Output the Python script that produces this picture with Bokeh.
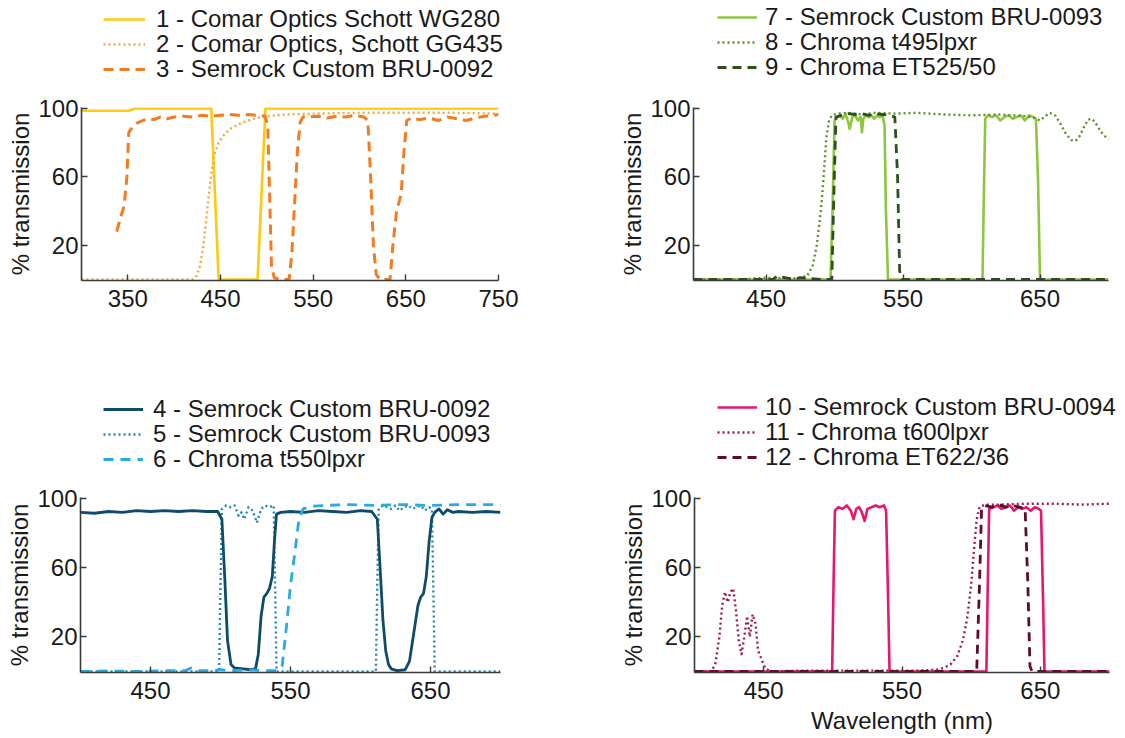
from bokeh.plotting import figure
from bokeh.models import Range1d, FixedTicker, Legend, LegendItem
from bokeh.layouts import column, row
from bokeh.embed import file_html
from bokeh.resources import INLINE

FONT = "Liberation Sans"

# ---------------- Panel 1 ----------------
p1_xticks = [350, 450, 550, 650, 750]
s1_label = "1 - Comar Optics Schott WG280"
s1_x = [300, 351, 358, 440, 448, 490, 498.5, 750]
s1_y = [98.7, 98.7, 100, 100, 0, 0, 100, 100]

s2_label = "2 - Comar Optics, Schott GG435"
s2_x = [300, 420, 424, 428, 432, 436, 440, 444, 448, 453, 460, 470, 480, 490, 500, 520, 550, 600, 650, 700, 750]
s2_y = [0, 0, 2, 8, 22, 42, 62, 74, 80, 84, 88, 91, 93, 94.5, 95.5, 96.5, 97, 97.5, 97.5, 97.5, 97]

s3_label = "3 - Semrock Custom BRU-0092"
s3_x = [338, 342, 346, 349, 351, 355, 360, 366, 372, 378, 385, 392, 400, 410, 420, 430, 440, 450, 460, 470,
        480, 490, 498, 501, 503, 505, 508, 515, 524, 527, 530, 533, 536, 539, 545, 555, 565, 575, 585, 595,
        605, 609, 612, 615, 618, 622, 628, 633, 636, 640, 645, 648, 651, 656, 665, 675, 685, 695, 705, 715,
        725, 735, 745, 750]
s3_y = [28, 36, 43, 60, 86, 89, 91.5, 93, 94, 93.5, 95, 94, 95, 95.5, 95, 96, 95.5, 96, 96.5, 96,
        96.5, 96, 95.5, 90, 50, 8, 1, 0, 0, 15, 45, 75, 92, 95, 95, 95.5, 94.5, 95.5, 95, 96,
        95, 93, 60, 20, 3, 0, 0, 0, 20, 40, 50, 75, 93, 94.5, 93.5, 94.5, 93, 95, 94, 93,
        94.5, 95.5, 96, 96.5]

# ---------------- Panel 2 ----------------
p2_xticks = [450, 550, 650]
s7_label = "7 - Semrock Custom BRU-0093"
s7_x = [397, 497, 498.5, 500, 502, 504, 506, 508, 510, 511, 513, 515, 517, 519, 520, 521, 523, 525, 527, 529,
        531, 533, 535, 536.5, 537.5, 539, 608, 609, 610, 612, 615, 618, 621, 624, 627, 630, 633, 636, 639, 642,
        645, 647, 648.5, 650, 700]
s7_y = [0, 0, 40, 93, 95, 96, 94, 97, 92, 88, 95, 96, 93, 95, 86, 94, 96, 95, 96, 94,
        96, 95, 96, 90, 40, 0, 0, 50, 94, 96, 95, 96, 93, 95, 96, 94, 95, 96, 93, 96,
        95, 94, 60, 0, 0]

s8_label = "8 - Chroma t495lpxr"
s8_x = [397, 430, 450, 470, 480, 484, 487, 490, 492, 494, 496, 498, 502, 510, 520, 530, 545, 560, 580, 600,
        620, 640, 646, 650, 653, 657, 661, 665, 669, 673, 676, 679, 682, 685, 688, 691, 694, 697, 700]
s8_y = [0, 0, 1, 0.5, 2, 8, 20, 40, 60, 83, 93, 96, 97, 97.5, 96.5, 97.5, 97, 97.5, 96.5, 96,
        96.5, 95.5, 94.5, 93, 95, 97.5, 96, 91, 85, 81.5, 81, 84, 89, 93.5, 94, 91, 87, 84, 82]

s9_label = "9 - Chroma ET525/50"
s9_x = [397, 440, 455, 458, 470, 475, 490, 498, 499.5, 501, 505, 510, 515, 520, 525, 530, 535, 540, 544,
        546, 547.5, 549, 700]
s9_y = [0, 0, 0, 2, 0, 1, 0, 0, 50, 95, 96, 97, 96.5, 97, 96, 97, 96.5, 96, 95,
        60, 5, 0, 0]

# ---------------- Panel 3 ----------------
p3_xticks = [450, 550, 650]
s4_label = "4 - Semrock Custom BRU-0092"
s4_x = [400, 410, 420, 430, 440, 450, 460, 470, 480, 490, 498, 501, 503, 505, 507.5, 510, 516, 522, 525, 527,
        529, 531, 533, 535, 537, 538.5, 540, 543, 550, 560, 570, 580, 590, 600, 608, 612, 614, 616, 618, 620,
        622, 626, 632, 635, 638, 641, 643, 645, 647, 649, 651, 653, 656, 659, 662, 666, 670, 680, 690, 700]
s4_y = [92, 91.5, 92.5, 92, 93, 92.5, 93, 92.5, 93, 92.5, 92.5, 88, 55, 18, 4, 2, 1.5, 1, 1.5, 10,
        32, 43, 45, 48, 55, 75, 91, 92, 92.5, 92, 93, 92.5, 92, 93, 92.5, 88, 60, 30, 12, 4,
        1.5, 0.5, 1, 6, 22, 38, 43, 45, 55, 75, 89, 92, 94, 91, 93.5, 92, 92.5, 92, 92.5, 92]

s5_label = "5 - Semrock Custom BRU-0093"
s5_x = [400, 499, 500, 501, 504, 507, 510, 513, 515, 517, 520, 523, 526, 529, 532, 535, 538, 539, 540, 611,
        612, 613, 616, 619, 622, 625, 628, 631, 634, 637, 640, 643, 646, 649, 651, 652, 653, 700]
s5_y = [0, 0, 50, 94, 96, 95, 96, 90, 92, 88, 95, 93, 86, 94, 96, 95, 96, 50, 0, 0,
        50, 94, 96, 95, 94, 96, 93, 95, 96, 94, 95, 96, 93, 95, 94, 50, 0, 0]

s6_label = "6 - Chroma t550lpxr"
s6_x = [400, 420, 440, 460, 475, 479, 483, 495, 500, 510, 520, 530, 540, 544, 547, 550, 553, 556, 559, 565,
        575, 590, 610, 630, 650, 670, 690, 700]
s6_y = [0, 0.3, 0, 0.5, 0.5, 2, 0.5, 0.5, 1, 0.5, 1, 0.5, 0.5, 3, 25, 50, 68, 88, 94, 95.5,
        96, 96.5, 96, 96.5, 96, 96.5, 96.5, 96.5]

# ---------------- Panel 4 ----------------
p4_xticks = [450, 550, 650]
s10_label = "10 - Semrock Custom BRU-0094"
s10_x = [400, 499.5, 500.5, 501.5, 504, 507, 510, 513, 515, 517, 519, 521, 523, 525, 528, 531, 534, 537, 538.5, 540,
         541, 611, 612, 613, 616, 619, 622, 625, 628, 631, 634, 637, 640, 643, 646, 649, 650.5, 652, 653, 700]
s10_y = [0, 0, 50, 93, 95, 94, 96, 93, 88, 94, 95, 92, 87, 94, 95, 96, 95, 96, 93, 40,
         0, 0, 50, 94, 95, 96, 94, 95, 96, 93, 95, 94, 95, 93, 95, 94, 93, 40, 0, 0]

s11_label = "11 - Chroma t600lpxr"
s11_x = [400, 412, 415, 418, 420, 422, 424, 426, 428, 430, 432, 434, 436, 438, 440, 442, 444, 446, 448, 451,
         455, 480, 520, 560, 575, 580, 585, 590, 594, 597, 600, 602, 604, 606, 610, 620, 640, 660, 680, 700]
s11_y = [0, 0, 4, 20, 38, 46, 40, 46, 48, 35, 18, 10, 20, 32, 20, 33, 28, 12, 8, 2,
         0, 0.5, 0.5, 0.5, 1, 2, 4, 9, 18, 30, 50, 70, 88, 95, 96.5, 96.5, 97, 97, 96.5, 97]

s12_label = "12 - Chroma ET622/36"
s12_x = [400, 604, 606, 607.5, 610, 615, 620, 625, 630, 635, 639, 641, 642.5, 644, 700]
s12_y = [0, 0, 50, 94, 96, 95, 96.5, 95, 96, 95, 94, 50, 3, 0, 0]

y_ticks = [20, 60, 100]


def make_panel(W, H, left, top, right, bottom, xr, xticks, series, xlabel=None):
    p = figure(width=W, height=H, x_range=Range1d(*xr), y_range=Range1d(-0.6, 100.6),
               output_backend="svg", toolbar_location=None,
               min_border_left=left, min_border_right=right,
               min_border_top=top, min_border_bottom=bottom)
    p.outline_line_color = None
    p.grid.visible = False
    p.xaxis.ticker = FixedTicker(ticks=xticks)
    p.yaxis.ticker = FixedTicker(ticks=y_ticks)
    for ax in (p.xaxis[0], p.yaxis[0]):
        ax.major_tick_in = 6
        ax.major_tick_out = 0
        ax.minor_tick_in = 0
        ax.minor_tick_out = 0
        ax.axis_line_color = "#3a3a3a"
        ax.axis_line_width = 1.6
        ax.major_tick_line_color = "#3a3a3a"
        ax.major_tick_line_width = 1.4
        ax.major_label_text_font = FONT
        ax.major_label_text_font_size = "24px"
        ax.major_label_text_color = "#1a1a1a"
        ax.axis_label_text_font = FONT
        ax.axis_label_text_font_size = "24px"
        ax.axis_label_text_font_style = "normal"
        ax.axis_label_text_color = "#1a1a1a"
    p.yaxis.major_label_standoff = 3
    p.yaxis.axis_label = "% transmission"
    p.yaxis.axis_label_standoff = 1
    p.xaxis.major_label_standoff = 9
    if xlabel:
        p.xaxis.axis_label = xlabel
        p.xaxis.axis_label_standoff = 5
    for (label, xs, ys, color, dash, lw) in series:
        p.line(xs, ys, line_color=color, line_width=lw, line_dash=dash, line_join="round")
    return p


def make_legend(W, H, series, x0, ys_px, glyph_w, standoff):
    # legend strip above a panel; the series are drawn here outside the visible range,
    # only their legend samples show. One legend per row for exact row placement.
    p = figure(width=W, height=H, x_range=Range1d(0, 1), y_range=Range1d(0, 1),
               output_backend="svg", toolbar_location=None,
               x_axis_location=None, y_axis_location=None, min_border=0)
    p.outline_line_color = None
    p.grid.visible = False
    for (label, xs, ys, color, dash, lw), vy in zip(series, ys_px):
        r = p.line(xs, ys, line_color=color, line_width=lw, line_dash=dash)
        leg = Legend(items=[LegendItem(label=label, renderers=[r])], location=(x0, vy),
                     orientation="vertical",
                     background_fill_alpha=0, border_line_alpha=0, padding=0, margin=0,
                     spacing=0, glyph_width=glyph_w, glyph_height=20, label_height=25,
                     label_standoff=standoff, label_text_font=FONT, label_text_font_size="24px",
                     label_text_color="#1a1a1a")
        p.add_layout(leg)
    return p


ser1 = [
    (s1_label, s1_x, s1_y, "#FFC90E", "solid", 2.6),
    (s2_label, s2_x, s2_y, "#F6A83C", "2 3", 2.4),
    (s3_label, s3_x, s3_y, "#F47B20", "10 6", 3.0),
]
ser2 = [
    (s7_label, s7_x, s7_y, "#8DC63F", "solid", 2.6),
    (s8_label, s8_x, s8_y, "#5E8F2B", "2 3", 2.4),
    (s9_label, s9_x, s9_y, "#2E4F1E", "9 6", 2.8),
]
ser3 = [
    (s4_label, s4_x, s4_y, "#0F4C68", "solid", 2.8),
    (s5_label, s5_x, s5_y, "#2489B0", "2 3", 2.4),
    (s6_label, s6_x, s6_y, "#29AAE1", "10 7", 2.8),
]
ser4 = [
    (s10_label, s10_x, s10_y, "#E6176F", "solid", 2.6),
    (s11_label, s11_x, s11_y, "#9B1B58", "2 3", 2.4),
    (s12_label, s12_x, s12_y, "#5E0B2E", "9 6", 2.8),
]

l1 = make_legend(600, 90, ser1, 103, [57.5, 32.5, 7.5], 42, 11)
l2 = make_legend(525, 90, ser2, 117, [59, 34, 9], 40, 8)
l3 = make_legend(600, 88, ser3, 103, [55.5, 30.5, 5.5], 40, 10)
l4 = make_legend(525, 88, ser4, 117, [57, 32, 7], 40, 8)

p1 = make_panel(600, 300, 81, 17, 102, 109, (300, 750), p1_xticks, ser1)
p2 = make_panel(525, 300, 93, 15, 17, 110, (397, 700), p2_xticks, ser2)
# draw order in panel 3: dotted first, then solid, then dashed
p3 = make_panel(600, 260, 80, 18, 100, 64, (400, 700), p3_xticks, [ser3[1], ser3[0], ser3[2]])
p4 = make_panel(525, 260, 94, 19, 16, 66, (400, 700), p4_xticks, ser4, xlabel="Wavelength (nm)")

layout = column(row(l1, l2), row(p1, p2), row(l3, l4), row(p3, p4))
open("out.html", "w").write(file_html(layout, INLINE))
